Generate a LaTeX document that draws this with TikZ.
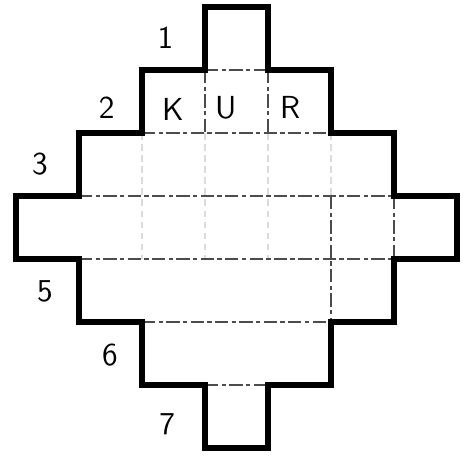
\documentclass[tikz,border=0pt]{standalone}
\usepackage{tikz}
\usetikzlibrary{positioning}
\definecolor{inkDark}{gray}{0.00}
\definecolor{inkMid} {gray}{0.30}
\definecolor{inkFaint}{gray}{0.86}

\begin{document}
\begin{tikzpicture}[
      x=1cm, y=-1cm,
      outline/.style={draw=inkDark, line width=2.7pt, line join=miter},
      fold/.style={draw=inkMid, line width=0.55pt,
                   dash pattern=on 6pt off 1.5pt on 2pt off 1.5pt},
      faint/.style={draw=inkFaint, line width=0.5pt, dash pattern=on 3pt off 2pt},
      rowno/.style={font=\Large\sffamily, inner sep=0pt},
      face/.style={font=\Large\sffamily, inner sep=0pt}]

    \useasboundingbox (-0.254,-0.111) rectangle (7.222,7.143);

    % faint grid lines inside the wide rows
    \draw[faint] (2,2) -- (2,4);
    \draw[faint] (3,2) -- (3,4);
    \draw[faint] (4,2) -- (4,4);
    \draw[faint] (5,2) -- (5,3);

    % fold lines
    \draw[fold] (3,1) -- (4,1);
    \draw[fold] (2,2) -- (5,2);
    \draw[fold] (1,3) -- (6,3);
    \draw[fold] (1,4) -- (6,4);
    \draw[fold] (2,5) -- (5,5);
    \draw[fold] (3,6) -- (4,6);
    \draw[fold] (3,1) -- (3,2);
    \draw[fold] (4,1) -- (4,2);
    \draw[fold] (5,3) -- (5,5);
    \draw[fold] (6,3) -- (6,4);

    % outer contour
    \draw[outline] (3,0) -- (4,0) -- (4,1) -- (5,1) -- (5,2) -- (6,2)
      -- (6,3) -- (7,3) -- (7,4) -- (6,4) -- (6,5) -- (5,5) -- (5,6)
      -- (4,6) -- (4,7) -- (3,7) -- (3,6) -- (2,6) -- (2,5) -- (1,5)
      -- (1,4) -- (0,4) -- (0,3) -- (1,3) -- (1,2) -- (2,2) -- (2,1)
      -- (3,1) -- cycle;

    \node[face] (k) at (2.49,1.62) {K};
    \node[face] (u) at (3.33,1.60) {U};
    \node[face] (r) at (4.35,1.60) {R};

    \node[rowno] (n1) at (2.37,0.49) {1};
    \node[rowno] (n2) at (1.44,1.60) {2};
    \node[rowno] (n3) at (0.38,2.50) {3};
    \node[rowno] (n5) at (0.46,4.52) {5};
    \node[rowno] (n6) at (1.49,5.52) {6};
    \node[rowno] (n7) at (2.40,6.63) {7};
  \end{tikzpicture}
\end{document}
